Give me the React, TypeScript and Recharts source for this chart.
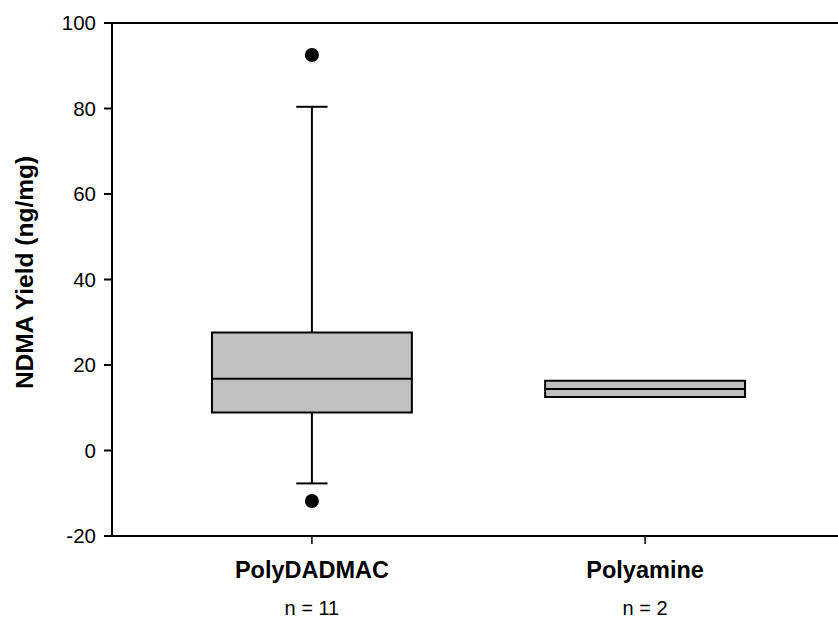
import React from 'react';
import {
  ComposedChart,
  XAxis,
  YAxis,
  Scatter,
  ReferenceArea,
  ReferenceLine,
} from 'recharts';

const categories = ['PolyDADMAC', 'Polyamine'];
const sampleSizes = [11, 2];
const lowerQuartile = [8.9, 12.5];
const medians = [16.8, 14.4];
const upperQuartile = [27.6, 16.3];
const lowerWhisker: (number | null)[] = [-7.7, null];
const upperWhisker: (number | null)[] = [80.4, null];
const outliers = [
  { x: 1, y: 92.5 },
  { x: 1, y: -11.8 },
];
const yTicks = [-20, 0, 20, 40, 60, 80, 100];

const FONT = '"Liberation Sans", Arial, sans-serif';
const BOX_HALF = 0.3;
const CAP_HALF = 0.047;

const CategoryTick = (props: any) => {
  const { x, y, payload } = props;
  const idx = Math.round(payload.value) - 1;
  return (
    <g>
      <text x={x} y={y} dy={34} textAnchor="middle" fontFamily={FONT} fontWeight="bold" fontSize={23.5} fill="#000">
        {categories[idx]}
      </text>
      <text x={x} y={y} dy={71} textAnchor="middle" fontFamily={FONT} fontSize={20} fill="#000">
        {`n = ${sampleSizes[idx]}`}
      </text>
    </g>
  );
};

const YLabel = (props: any) => {
  const vb = props.viewBox || { y: 23, height: 513 };
  const cy = vb.y + vb.height / 2 - 7;
  return (
    <text
      x={24}
      y={cy}
      transform={`rotate(-90, 24, ${cy})`}
      textAnchor="middle"
      dominantBaseline="central"
      fontFamily={FONT}
      fontWeight="bold"
      fontSize={24.5}
      fill="#000"
    >
      NDMA Yield (ng/mg)
    </text>
  );
};

export default function App() {
  return (
    <div style={{ width: 838, height: 624, overflow: 'hidden', background: '#fff' }}>
      <style>{'body{margin:0}'}</style>
      <ComposedChart width={846} height={624} margin={{ top: 23, right: 1, bottom: 0, left: 0 }}>
        <XAxis
          type="number"
          dataKey="x"
          domain={[0.4, 2.6]}
          ticks={[1, 2]}
          allowDataOverflow
          height={88}
          tickSize={8}
          tickMargin={0}
          axisLine={{ stroke: '#000', strokeWidth: 2 }}
          tickLine={{ stroke: '#000', strokeWidth: 1.5 }}
          tick={<CategoryTick />}
        />
        <YAxis
          type="number"
          dataKey="y"
          domain={[-20, 100]}
          ticks={yTicks}
          allowDataOverflow
          width={112}
          tickSize={8}
          tickMargin={8}
          axisLine={{ stroke: '#000', strokeWidth: 2 }}
          tickLine={{ stroke: '#000', strokeWidth: 2 }}
          tick={{ fill: '#000', fontSize: 20.5, fontFamily: FONT }}
          label={<YLabel />}
        />
        <ReferenceLine y={100} stroke="#000" strokeWidth={2} />
        {categories.map((c, i) => {
          const pos = i + 1;
          const lo = lowerWhisker[i];
          const hi = upperWhisker[i];
          return (
            <React.Fragment key={c}>
              {hi !== null && (
                <ReferenceLine segment={[{ x: pos, y: upperQuartile[i] }, { x: pos, y: hi }]} stroke="#000" strokeWidth={2} />
              )}
              {hi !== null && (
                <ReferenceLine segment={[{ x: pos - CAP_HALF, y: hi }, { x: pos + CAP_HALF, y: hi }]} stroke="#000" strokeWidth={2} />
              )}
              {lo !== null && (
                <ReferenceLine segment={[{ x: pos, y: lowerQuartile[i] }, { x: pos, y: lo }]} stroke="#000" strokeWidth={2} />
              )}
              {lo !== null && (
                <ReferenceLine segment={[{ x: pos - CAP_HALF, y: lo }, { x: pos + CAP_HALF, y: lo }]} stroke="#000" strokeWidth={2} />
              )}
              <ReferenceArea
                x1={pos - BOX_HALF}
                x2={pos + BOX_HALF}
                y1={lowerQuartile[i]}
                y2={upperQuartile[i]}
                fill="#c0c0c0"
                fillOpacity={1}
                stroke="#000"
                strokeWidth={2}
              />
              <ReferenceLine
                segment={[{ x: pos - BOX_HALF, y: medians[i] }, { x: pos + BOX_HALF, y: medians[i] }]}
                stroke="#000"
                strokeWidth={2}
              />
            </React.Fragment>
          );
        })}
        <Scatter
          data={outliers}
          isAnimationActive={false}
          shape={(p: any) => <circle cx={p.cx} cy={p.cy} r={7} fill="#000" />}
        />
      </ComposedChart>
    </div>
  );
}
